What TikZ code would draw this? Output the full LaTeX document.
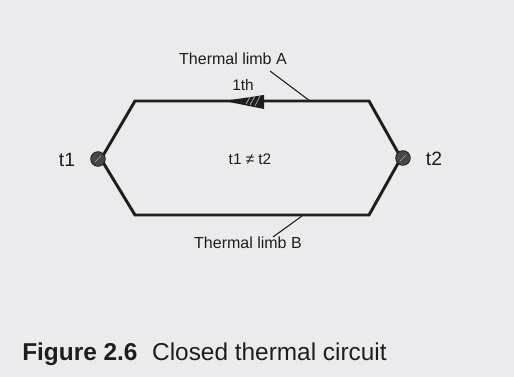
\documentclass[tikz,border=0pt]{standalone}
\usepackage{fontspec}
\setmainfont{Liberation Sans}
\definecolor{bg}{RGB}{235,235,237}
\definecolor{ink}{RGB}{30,30,30}
\begin{document}
\begin{tikzpicture}[x=0.75pt,y=-0.75pt,
  limb/.style={draw=ink,line width=2.2pt,line join=miter},
  lbl/.style={inner sep=0pt,text=ink,font=\fontsize{12pt}{14pt}\selectfont},
  tlbl/.style={inner sep=0pt,text=ink,font=\fontsize{14.5pt}{16pt}\selectfont},
  leader/.style={draw=ink,line width=0.8pt},
  junction/.style={circle,draw=ink,fill=black!72,line width=0.6pt,minimum size=11pt,inner sep=0pt}]
\fill[bg] (0,0) rectangle (514,377);
\useasboundingbox (0,0) rectangle (514,377);
% corners
\coordinate (tl) at (135,101);
\coordinate (tr) at (369,101);
\coordinate (br) at (369,215);
\coordinate (bl) at (135,215);
\coordinate (lp) at (101,159);
\coordinate (rp) at (401,158);
\draw[limb] (lp) -- (tl) -- (tr) -- (rp) -- (br) -- (bl) -- cycle;
% arrow on limb A
\coordinate (atip) at (224,101);
\coordinate (abt) at (264,95);
\coordinate (abb) at (264,109);
\fill[ink] (atip) -- (abt) -- (abb) -- cycle;
\draw[white!70!ink,line width=0.5pt] (250,97) -- (246,104) (255,96) -- (250,105) (260,96) -- (255,106);
% junctions
\node[junction] (t1dot) at (98,159) {};
\node[junction] (t2dot) at (403,158) {};
\draw[white!60!ink,line width=0.4pt] (95,162) -- (101,156) (400,161) -- (406,155);
% labels
\node[tlbl] (t1) at (67,160) {t1};
\node[tlbl] (t2) at (434,159) {t2};
\node[lbl,font=\fontsize{11.5pt}{13pt}\selectfont] (neq) at (250,159) {t1 ≠ t2};
\node[lbl,font=\fontsize{11.5pt}{13pt}\selectfont] (ith) at (243,85) {1th};
\node[lbl] (la) at (233,59) {Thermal limb A};
\node[lbl] (lb) at (248,243) {Thermal limb B};
\coordinate (la0) at (270,71);
\coordinate (la1) at (310,101);
\coordinate (lb0) at (302,216);
\coordinate (lb1) at (273,237);
\draw[leader] (la0) -- (la1);
\draw[leader] (lb0) -- (lb1);
% caption
\node[anchor=base west,inner sep=0pt,text=ink,font=\fontsize{18.3pt}{20pt}\selectfont] (cap) at (22,361) {\textbf{Figure 2.6}\hspace{0.6em}Closed thermal circuit};
\end{tikzpicture}
\end{document}
